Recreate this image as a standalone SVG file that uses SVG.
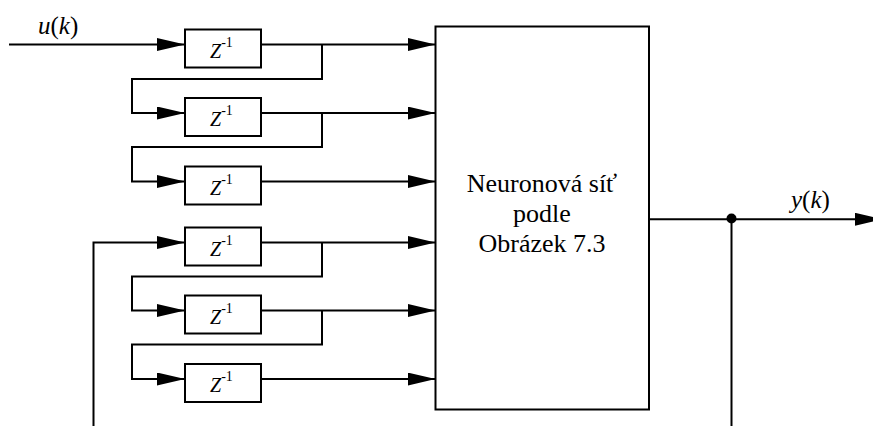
<svg xmlns="http://www.w3.org/2000/svg" width="873" height="426" viewBox="0 0 873 426" font-family="Times New Roman">
<defs>
<marker id="arr" markerUnits="userSpaceOnUse" markerWidth="29" markerHeight="14" refX="28" refY="6.5" orient="auto">
<path d="M0,0 L28,6.5 L0,13 z" fill="#000"/>
</marker>
</defs>
<rect width="873" height="426" fill="#fff"/>
<g id="connectors" fill="none" stroke="#000" stroke-width="2">
<line marker-end="url(#arr)" x1="9" y1="44.5" x2="185" y2="44.5"/>
<line marker-end="url(#arr)" x1="261" y1="44.5" x2="435.5" y2="44.5"/>
<line marker-end="url(#arr)" x1="261" y1="113" x2="435.5" y2="113"/>
<line marker-end="url(#arr)" x1="261" y1="181.5" x2="435.5" y2="181.5"/>
<line marker-end="url(#arr)" x1="261" y1="242.5" x2="435.5" y2="242.5"/>
<line marker-end="url(#arr)" x1="261" y1="310.5" x2="435.5" y2="310.5"/>
<line marker-end="url(#arr)" x1="261" y1="379" x2="435.5" y2="379"/>
<polyline marker-end="url(#arr)" points="322,44.5 322,79 132,79 132,113 185,113"/>
<polyline marker-end="url(#arr)" points="322,113 322,147 132,147 132,181.5 185,181.5"/>
<polyline marker-end="url(#arr)" points="322,242.5 322,276.5 132,276.5 132,310.5 185,310.5"/>
<polyline marker-end="url(#arr)" points="322,310.5 322,344.5 132,344.5 132,379 185,379"/>
<polyline marker-end="url(#arr)" points="93.5,426 93.5,242.5 185,242.5"/>
<line marker-end="url(#arr)" x1="649" y1="219.3" x2="883" y2="219.3"/>
<line x1="731.5" y1="219.3" x2="731.5" y2="426"/>
<circle cx="731.5" cy="218.5" r="5" fill="#000" stroke="none"/>
</g>
<g id="delay1"><rect fill="#fff" stroke="#000" stroke-width="2" x="185" y="29.5" width="76" height="38"/><text font-family="Times New Roman" font-size="20" font-style="italic" x="210" y="57.5">Z<tspan font-style="normal" font-size="14" dy="-11">-1</tspan></text></g>
<g id="delay2"><rect fill="#fff" stroke="#000" stroke-width="2" x="185" y="98" width="76" height="38"/><text font-family="Times New Roman" font-size="20" font-style="italic" x="210" y="126">Z<tspan font-style="normal" font-size="14" dy="-11">-1</tspan></text></g>
<g id="delay3"><rect fill="#fff" stroke="#000" stroke-width="2" x="185" y="166.5" width="76" height="38"/><text font-family="Times New Roman" font-size="20" font-style="italic" x="210" y="194.5">Z<tspan font-style="normal" font-size="14" dy="-11">-1</tspan></text></g>
<g id="delay4"><rect fill="#fff" stroke="#000" stroke-width="2" x="185" y="227.5" width="76" height="38"/><text font-family="Times New Roman" font-size="20" font-style="italic" x="210" y="255.5">Z<tspan font-style="normal" font-size="14" dy="-11">-1</tspan></text></g>
<g id="delay5"><rect fill="#fff" stroke="#000" stroke-width="2" x="185" y="295.5" width="76" height="38"/><text font-family="Times New Roman" font-size="20" font-style="italic" x="210" y="323.5">Z<tspan font-style="normal" font-size="14" dy="-11">-1</tspan></text></g>
<g id="delay6"><rect fill="#fff" stroke="#000" stroke-width="2" x="185" y="364" width="76" height="38"/><text font-family="Times New Roman" font-size="20" font-style="italic" x="210" y="392">Z<tspan font-style="normal" font-size="14" dy="-11">-1</tspan></text></g>
<g id="network">
<rect fill="#fff" stroke="#000" stroke-width="2" x="435.5" y="26.5" width="213.5" height="383"/>
<text font-family="Times New Roman" font-size="26" text-anchor="middle" x="542" y="191.5">Neuronová síť</text>
<text font-family="Times New Roman" font-size="26" text-anchor="middle" x="542" y="221.5">podle</text>
<text font-family="Times New Roman" font-size="26" text-anchor="middle" x="542" y="251.5">Obrázek 7.3</text>
</g>
<g id="labels">
<text font-family="Times New Roman" font-size="25" x="38" y="34"><tspan font-style="italic">u</tspan>(<tspan font-style="italic">k</tspan>)</text>
<text font-family="Times New Roman" font-size="25" x="791" y="207.5"><tspan font-style="italic">y</tspan>(<tspan font-style="italic">k</tspan>)</text>
</g>
</svg>
